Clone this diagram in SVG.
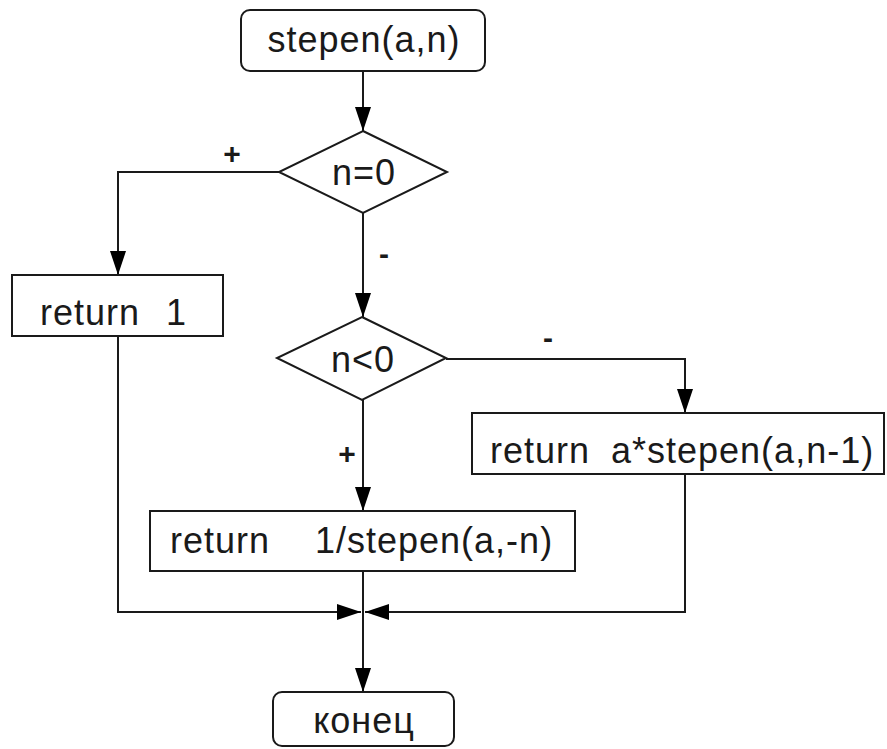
<svg xmlns="http://www.w3.org/2000/svg" width="887" height="749" viewBox="0 0 887 749">
<defs>
<style>
.s{fill:#fff;stroke:#1a1a1a;stroke-width:2}
.c{fill:none;stroke:#1a1a1a;stroke-width:2}
.t{font-family:"Liberation Sans",Arial,sans-serif;font-size:36px;letter-spacing:1px;fill:#1a1a1a}
.m{text-anchor:middle}
.l{font-family:"Liberation Sans",Arial,sans-serif;font-size:30px;font-weight:bold;fill:#1a1a1a;text-anchor:middle}
</style>
<marker id="ah" markerUnits="userSpaceOnUse" markerWidth="24" markerHeight="16" refX="24" refY="8" orient="auto">
<path d="M0,0 L24,8 L0,16 z" fill="#000"/>
</marker>
</defs>
<g id="connectors">
<line class="c" x1="363" y1="71" x2="363" y2="131" marker-end="url(#ah)"/>
<polyline class="c" points="279,172 118,172 118,275" marker-end="url(#ah)"/>
<line class="c" x1="363" y1="213" x2="363" y2="317" marker-end="url(#ah)"/>
<polyline class="c" points="446,359 685,359 685,413" marker-end="url(#ah)"/>
<line class="c" x1="363" y1="400" x2="363" y2="511" marker-end="url(#ah)"/>
<polyline class="c" points="118,336 118,612 361,612" marker-end="url(#ah)"/>
<polyline class="c" points="685,474 685,612 365,612" marker-end="url(#ah)"/>
<line class="c" x1="363" y1="571" x2="363" y2="692" marker-end="url(#ah)"/>
<text class="l" x="232" y="164">+</text>
<text class="l" x="384" y="264">-</text>
<text class="l" x="548" y="348">-</text>
<text class="l" x="347" y="464">+</text>
</g>
<g id="start">
<rect class="s" x="241" y="10" width="244" height="61" rx="9"/>
<text class="t m" x="364" y="52">stepen(a,n)</text>
</g>
<g id="cond1">
<polygon class="s" points="363,131 447,172 363,213 279,172"/>
<text class="t m" x="364" y="185">n=0</text>
</g>
<g id="ret1">
<rect class="s" x="12" y="275" width="211" height="61"/>
<text class="t" x="40" y="325">return</text>
<text class="t" x="166" y="325">1</text>
</g>
<g id="cond2">
<polygon class="s" points="362,317 446,358 362,400 277,358"/>
<text class="t m" x="363" y="372">n&lt;0</text>
</g>
<g id="retrec">
<rect class="s" x="472" y="413" width="412" height="61"/>
<text class="t" x="490" y="463">return</text>
<text class="t" x="611" y="463">a*stepen(a,n-1)</text>
</g>
<g id="retneg">
<rect class="s" x="150" y="511" width="425" height="60"/>
<text class="t" x="170" y="553">return</text>
<text class="t" x="315" y="553">1/stepen(a,-n)</text>
</g>
<g id="end">
<rect class="s" x="273" y="692" width="181" height="54" rx="9"/>
<text class="t m" x="364" y="733">конец</text>
</g>
</svg>
